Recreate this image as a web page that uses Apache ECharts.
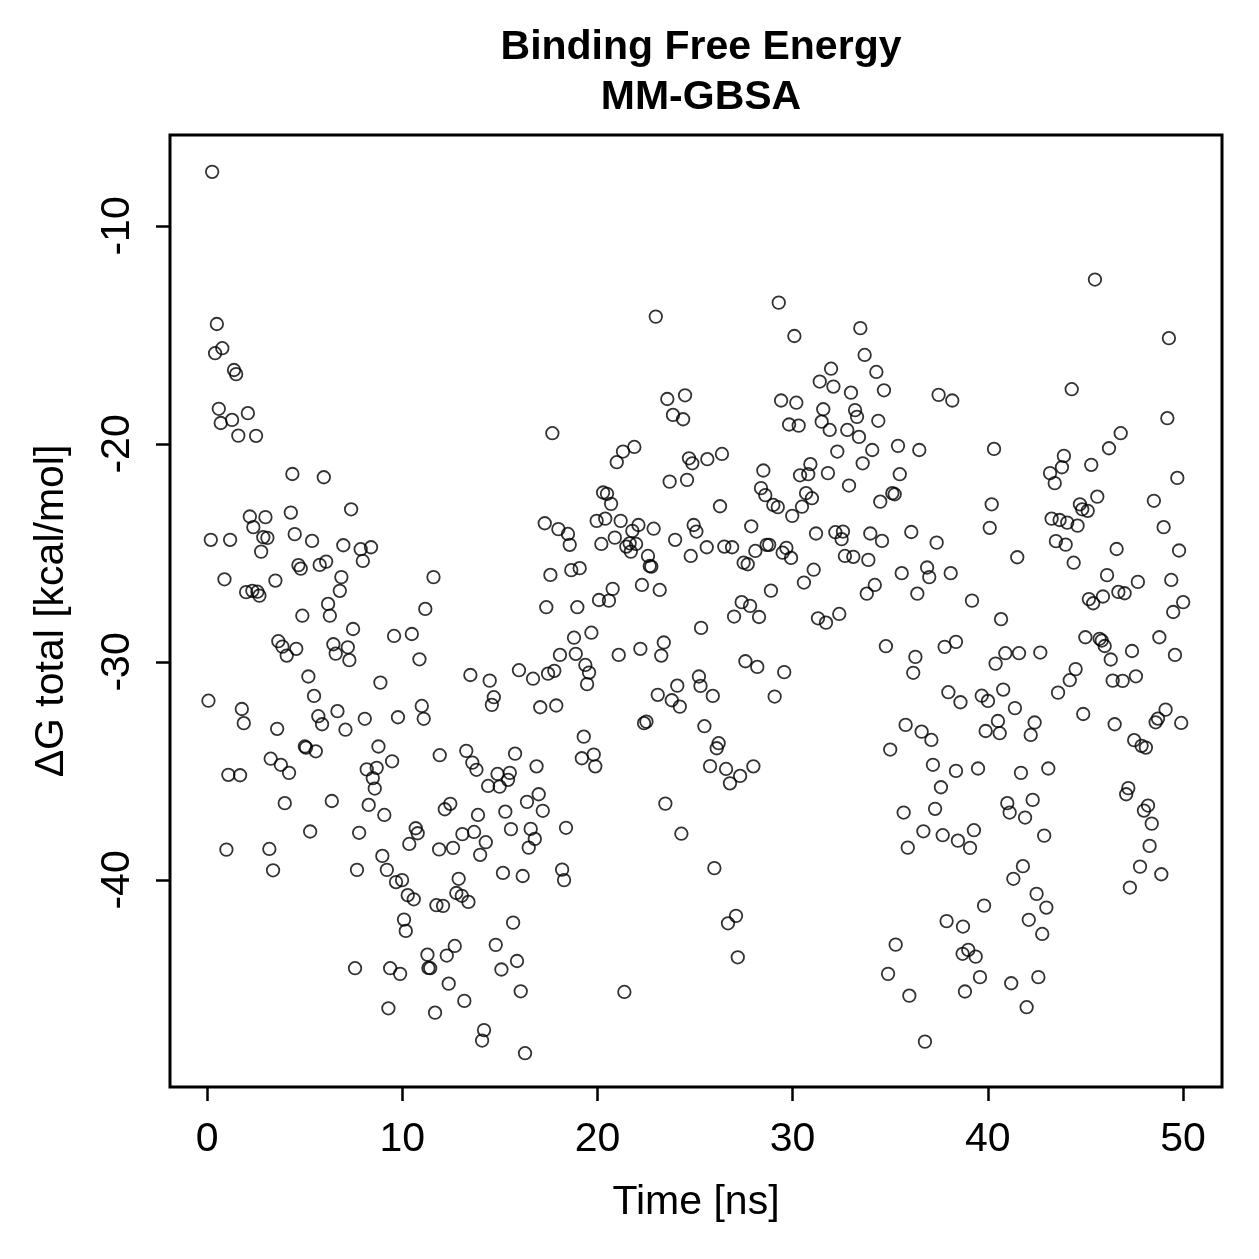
<!DOCTYPE html>
<html>
<head>
<meta charset="utf-8">
<script src="https://cdn.jsdelivr.net/npm/echarts@6/dist/echarts.min.js"></script>
<style>
  html, body { margin: 0; padding: 0; background: #fff; }
  #chart { width: 1259px; height: 1259px; }
</style>
</head>
<body>
<div id="chart"></div>
<script>
// [time (ns), dG total (kcal/mol)], split by time block
const block0to12 = [
  [0.26,-7.52],[0.50,-14.50],[0.41,-15.84],[0.78,-15.61],[1.38,-16.61],[1.49,-16.80],[0.60,-18.39],[0.70,-19.04],[1.28,-18.90],[2.09,-18.59],[1.60,-19.62],[2.51,-19.63],
  [4.37,-21.38],[5.98,-21.53],[7.38,-23.00],[2.19,-23.33],[2.99,-23.36],[4.29,-23.15],[2.37,-23.82],[0.19,-24.40],[1.18,-24.40],[2.88,-24.28],[3.09,-24.31],[4.49,-24.14],[5.38,-24.45],[2.77,-24.94],[6.98,-24.65],[7.87,-24.83],[8.40,-24.74],[7.98,-25.37],[4.68,-25.56],[4.80,-25.72],[5.77,-25.55],[6.10,-25.40],[0.89,-26.21],[3.50,-26.27],[6.88,-26.11],[6.80,-26.74],[2.00,-26.80],[2.32,-26.74],[2.58,-26.78],[2.68,-26.96],[11.60,-26.11],[6.20,-27.34],[6.29,-27.88],[4.88,-27.88],[11.18,-27.57],[7.48,-28.49],[9.58,-28.81],[10.49,-28.72],[3.65,-29.05],[3.86,-29.30],[4.08,-29.71],[4.57,-29.40],[6.47,-29.19],[7.21,-29.33],[6.59,-29.62],[7.29,-29.92],[10.88,-29.88],[5.19,-30.67],[8.88,-30.95],[5.48,-31.56],[0.07,-31.78],[1.78,-32.16],[1.88,-32.81],[5.70,-32.49],[5.89,-32.86],[6.68,-32.26],[7.09,-33.11],[8.08,-32.61],[9.78,-32.54],[11.00,-32.02],[11.10,-32.61],[3.59,-33.07],[5.01,-33.88],[5.07,-33.93],[5.57,-34.10],[8.78,-33.88],[3.26,-34.44],[3.78,-34.72],[4.20,-35.09],[9.48,-34.56],[8.69,-34.86],[8.18,-34.93],[11.92,-34.28],[1.09,-35.18],[1.69,-35.20],[8.49,-35.33],[8.59,-35.81],
  [3.98,-36.48],[6.39,-36.38],[8.28,-36.56],[9.08,-37.02],[5.28,-37.78],[7.79,-37.84],[10.69,-37.63],[10.79,-37.86],[10.36,-38.35],[11.89,-38.60],[0.99,-38.61],[3.19,-38.58],[3.38,-39.56],[7.68,-39.54],[8.98,-38.90],[9.21,-39.54],[9.99,-40.01],[9.68,-40.10],[10.28,-40.70],[10.59,-40.89],[11.75,-41.16],[10.09,-41.82],[10.18,-42.34],[11.29,-43.43],[11.34,-44.04],[11.43,-44.05],[7.58,-44.05],[9.38,-44.05],[9.89,-44.31],[9.29,-45.89],[11.68,-46.09]
]
const block12to25 = [
  [22.99,-14.16],[23.58,-17.94],[24.49,-17.77],[23.87,-18.67],[24.39,-18.87],[17.69,-19.51],[21.89,-20.14],[21.31,-20.35],
  [20.99,-20.84],[24.69,-20.66],[24.86,-20.89],[23.70,-21.73],[24.59,-21.65],[20.29,-22.23],[20.49,-22.29],[20.70,-22.75],[17.30,-23.64],[18.00,-23.91],[18.49,-24.13],[18.58,-24.63],[19.96,-23.53],[20.40,-23.43],[21.19,-23.53],[22.10,-23.72],[21.79,-23.99],[22.88,-23.89],[20.20,-24.59],[20.89,-24.30],[21.48,-24.71],[21.65,-24.56],[21.98,-24.59],[21.71,-24.94],[22.59,-25.14],[22.68,-25.60],[22.76,-25.63],[23.98,-24.40],[24.93,-23.72],[25.07,-24.02],[24.78,-25.14],[17.59,-26.01],[18.66,-25.79],[19.09,-25.70],[20.78,-26.65],[20.08,-27.16],[20.59,-27.19],[22.28,-26.47],[23.19,-26.70],[17.38,-27.49],[18.97,-27.49],[25.31,-28.44],[18.80,-28.89],[19.69,-28.66],[18.08,-29.68],[18.89,-29.63],[19.38,-30.14],[19.57,-30.49],[19.47,-31.02],[21.09,-29.68],[22.20,-29.40],[23.40,-29.11],[23.27,-29.71],[13.49,-30.60],[14.48,-30.86],[14.69,-31.62],[14.59,-31.97],[15.98,-30.38],[16.70,-30.77],[17.47,-30.54],[17.79,-30.41],[17.07,-32.08],[17.89,-32.00],[23.09,-31.51],[24.09,-31.09],[23.81,-31.76],[24.22,-32.05],[25.20,-30.67],[25.28,-31.10],[22.39,-32.81],[22.51,-32.74],[19.30,-33.43],[13.28,-34.08],[13.59,-34.62],[13.80,-34.95],[15.78,-34.21],[16.88,-34.79],[19.20,-34.42],[19.81,-34.25],[19.89,-34.79],[14.88,-35.14],[15.51,-35.09],
  [15.42,-35.41],[14.40,-35.69],[14.99,-35.72],[12.46,-36.51],[12.18,-36.76],[13.88,-37.02],[15.28,-36.87],[16.39,-36.42],[16.99,-36.07],[17.20,-36.83],[23.48,-36.50],[24.30,-37.88],[18.39,-37.61],[15.57,-37.67],[16.58,-37.66],[16.79,-38.12],[16.48,-38.52],[13.08,-37.90],[13.68,-37.80],[14.28,-38.27],[12.60,-38.53],[13.99,-38.85],[15.16,-39.68],[16.17,-39.82],[18.19,-39.53],[18.29,-40.01],[12.89,-39.95],[12.77,-40.60],[13.05,-40.73],[13.39,-41.01],[12.09,-41.19],[15.68,-41.96],[14.79,-42.98],[12.69,-43.03],[12.28,-43.47],[15.88,-43.72],[15.08,-44.11],[12.38,-44.76],[16.07,-45.11],[21.38,-45.14],[13.18,-45.55],[14.19,-46.89],[14.09,-47.37],[16.29,-47.95]
]
const block25to38 = [
  [29.29,-13.52],[30.09,-15.05],[33.47,-14.69],[33.69,-15.92],[31.97,-16.55],[34.29,-16.70],[31.39,-17.14],[32.09,-17.37],[34.68,-17.54],[32.99,-17.65],[29.41,-18.01],[30.19,-18.11],[37.48,-17.75],[38.18,-18.01],[31.57,-18.41],[33.20,-18.45],[33.30,-18.76],[34.39,-18.94],[31.49,-18.98],[29.82,-19.11],[30.31,-19.16],[31.90,-19.36],[32.80,-19.36],[33.40,-19.68],[35.40,-20.09],[32.29,-20.35],[34.08,-20.28],[36.49,-20.28],[26.38,-20.46],[25.63,-20.70],
  [28.50,-21.22],[30.38,-21.44],[30.80,-21.39],[30.91,-20.93],[33.59,-20.89],[31.81,-21.34],[35.49,-21.39],[32.89,-21.91],[28.38,-22.03],[28.60,-22.35],[30.69,-22.26],[30.99,-22.49],[29.01,-22.80],[29.24,-22.90],[30.48,-22.88],[29.98,-23.30],[34.49,-22.65],[35.11,-22.26],[35.23,-22.31],[26.28,-22.86],[27.88,-23.78],[31.20,-24.11],[32.19,-24.05],[32.58,-24.02],[32.51,-24.37],[33.98,-24.11],[34.58,-24.45],[36.08,-24.04],[37.38,-24.53],[25.60,-24.74],[26.50,-24.71],[26.90,-24.74],[28.09,-24.91],[28.67,-24.63],[28.80,-24.63],[29.68,-24.77],[29.49,-24.99],[29.92,-25.23],[32.68,-25.14],[33.11,-25.18],[33.88,-25.32],[27.49,-25.45],[27.70,-25.52],[31.08,-25.77],[30.58,-26.36],[35.59,-25.93],[36.89,-25.67],[37.00,-26.11],[38.10,-25.93],[34.21,-26.47],[33.80,-26.87],[36.39,-26.87],[28.89,-26.73],[27.39,-27.26],[27.82,-27.43],[27.00,-27.92],[28.28,-27.94],[31.30,-28.00],[31.71,-28.20],[32.39,-27.80],[34.78,-29.28],[36.29,-29.77],[36.18,-30.50],[37.79,-29.31],[38.37,-29.08],[27.58,-29.97],[28.19,-30.23],[29.57,-30.47],[25.91,-31.56],[29.08,-31.59],[37.98,-31.39],[38.60,-31.85],[35.79,-32.89],[36.61,-33.20],[37.11,-33.58],[35.00,-34.02],[37.19,-34.72],[38.37,-35.00],[25.48,-32.95],[26.21,-33.73],[26.11,-33.96],[25.77,-34.78],[26.59,-34.91],[27.99,-34.79],[27.31,-35.23],[26.79,-35.57],
  [37.60,-35.75],[35.69,-36.91],[37.30,-36.74],[36.70,-37.77],[37.69,-37.95],[38.47,-38.20],[35.90,-38.52],[25.99,-39.46],[27.10,-41.65],[26.69,-41.99],[27.19,-43.55],[37.89,-41.89],[38.73,-42.14],[35.28,-42.97],[38.71,-43.39],[39.00,-43.21],[39.38,-43.52],[34.89,-44.31],[35.98,-45.31],[38.83,-45.12],[36.78,-47.42]
]
const block38to50 = [
  [45.49,-12.46],[49.28,-15.15],[44.30,-17.49],[49.20,-18.82],[46.81,-19.51],[46.21,-20.20],[40.32,-20.23],[43.90,-20.55],
  [43.80,-21.07],[43.19,-21.34],[43.43,-21.80],[45.30,-20.96],[49.71,-21.56],[40.20,-22.77],[40.10,-23.85],[45.61,-22.42],[44.72,-22.77],[44.84,-23.00],[45.12,-23.07],[43.27,-23.43],[43.68,-23.49],[44.07,-23.61],[44.60,-23.75],[48.51,-22.61],[49.01,-23.82],[43.49,-24.46],[43.99,-24.62],[44.40,-25.45],[46.60,-24.82],[49.80,-24.89],[41.51,-25.20],[46.11,-26.02],[47.69,-26.33],[49.40,-26.24],[39.19,-27.19],[40.68,-28.04],[45.18,-27.12],[45.40,-27.31],[45.90,-27.00],[46.69,-26.79],[47.01,-26.85],[50.01,-27.26],[49.50,-27.71],[45.00,-28.87],[45.73,-28.94],[45.84,-29.02],[45.99,-29.27],[46.30,-29.89],[47.39,-29.50],[48.79,-28.87],[49.59,-29.68],[40.90,-29.60],[41.60,-29.60],[42.69,-29.57],[40.40,-30.08],[44.50,-30.33],[44.20,-30.84],[46.40,-30.86],[46.91,-30.87],[47.59,-30.66],[43.60,-31.41],[39.69,-31.55],[40.01,-31.79],[40.79,-31.27],[41.39,-32.12],[40.52,-32.71],[39.89,-33.17],[40.61,-33.27],[42.40,-32.78],[42.20,-33.35],[44.89,-32.39],[46.50,-32.86],[49.11,-32.19],[48.72,-32.60],[48.60,-32.77],[49.91,-32.80],[47.50,-33.59],[47.88,-33.85],[48.10,-33.93],[39.50,-34.89],[41.70,-35.09],[43.10,-34.89],
  [41.00,-36.48],[41.12,-36.91],[41.91,-37.14],[42.30,-36.33],[42.89,-37.97],[39.29,-37.72],[39.09,-38.53],[41.80,-39.37],[41.31,-39.95],[42.50,-40.64],[43.00,-41.27],[42.10,-41.83],[42.79,-42.48],[39.81,-41.18],[39.60,-44.46],[41.20,-44.74],[42.59,-44.46],[41.99,-45.84],[47.20,-35.79],[47.09,-36.07],[48.21,-36.59],[48.00,-36.82],[48.40,-37.42],[48.29,-38.44],[47.80,-39.39],[48.89,-39.74],[47.28,-40.35]
]

const xTicks = [0, 10, 20, 30, 40, 50]
const yTicks = [-40, -30, -20, -10]
const titleLines = ['Binding Free Energy', 'MM-GBSA']

const font = 'Liberation Sans, Arial, Helvetica, sans-serif'
const points = [].concat(block0to12, block12to25, block25to38, block38to50)

const chart = echarts.init(document.getElementById('chart'))
chart.setOption({
  backgroundColor: '#fff',
  animation: false,
  title: {
    text: titleLines.join('\n'),
    left: 696,
    top: 18,
    textAlign: 'center',
    textStyle: { fontFamily: font, fontSize: 41, fontWeight: 'bold', color: '#000', lineHeight: 50 },
  },
  grid: {
    left: 170,
    top: 135,
    width: 1052,
    height: 952,
    show: true,
    borderColor: '#000',
    borderWidth: 3,
    backgroundColor: 'transparent',
  },
  xAxis: {
    type: 'value',
    min: -1.9,
    max: 52,
    name: 'Time [ns]',
    nameLocation: 'middle',
    nameGap: 95,
    nameTextStyle: { fontFamily: font, fontSize: 41, color: '#000' },
    axisLine: { show: false, onZero: false },
    splitLine: { show: false },
    axisTick: { show: true, length: 14, customValues: xTicks, lineStyle: { color: '#000', width: 2.5 } },
    axisLabel: { customValues: xTicks, margin: 32, fontFamily: font, fontSize: 41, color: '#000' },
  },
  yAxis: {
    type: 'value',
    min: -49.5,
    max: -5.83,
    name: '\u0394G total [kcal/mol]',
    nameLocation: 'middle',
    nameGap: 98,
    nameTextStyle: { fontFamily: font, fontSize: 41, color: '#000' },
    axisLine: { show: false, onZero: false },
    splitLine: { show: false },
    axisTick: { show: true, length: 14, customValues: yTicks, lineStyle: { color: '#000', width: 2.5 } },
    axisLabel: {
      customValues: yTicks,
      rotate: 90,
      margin: 32,
      fontFamily: font,
      fontSize: 41,
      color: '#000',
    },
  },
  series: [
    {
      type: 'scatter',
      data: points,
      symbol: 'circle',
      symbolSize: 12.5,
      itemStyle: { color: 'rgba(0,0,0,0)', borderColor: '#000', borderWidth: 1.8 },
      emphasis: { disabled: true },
    },
  ],
})
</script>
</body>
</html>
